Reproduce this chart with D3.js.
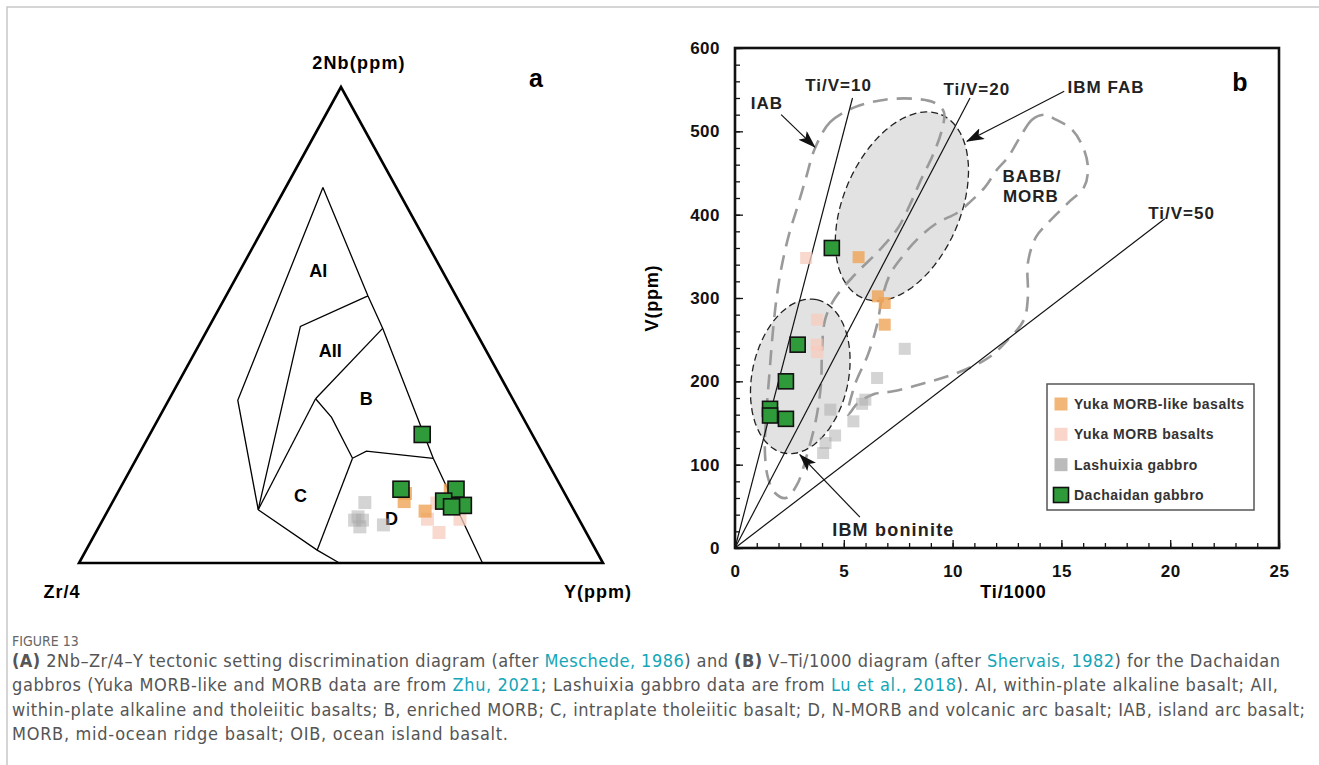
<!DOCTYPE html>
<html>
<head>
<meta charset="utf-8">
<script src="https://cdn.jsdelivr.net/npm/d3@7"></script>
<style>
  body { margin: 0; background: #fff; }
  svg text { font-family: "Liberation Sans", Arial, sans-serif; }
  .cap { font-family: "Liberation Sans Narrow", "DejaVu Sans Condensed", Roboto, sans-serif; }
</style>
</head>
<body>
<svg id="svg" width="1319" height="765"></svg>
<script>
// ---------- panel a : ternary 2Nb - Zr/4 - Y, values as [2Nb, Zr/4, Y] in %
var dachaidanA = [[27.0, 21.0, 52.0], [15.5, 30.8, 53.7], [15.5, 20.3, 64.2], [13.0, 23.9, 63.1], [12.1, 20.6, 67.3], [11.8, 23.0, 65.2]];
var morbLikeA = [[14.6, 30.4, 55.0], [12.9, 31.5, 55.6], [10.9, 28.5, 60.6], [15.3, 21.5, 63.2]];
var morbA = [[9.2, 28.9, 61.9], [6.4, 28.1, 65.5], [9.2, 22.7, 68.1], [12.6, 25.4, 62.0]];
var lashuixiaA = [[12.7, 39.1, 48.2], [9.7, 41.9, 48.4], [9.0, 41.4, 49.6], [7.6, 42.6, 49.8], [8.0, 37.9, 54.1], [9.0, 42.9, 48.1]];

// Meschede field vertices
var vA = [78.9, 14.0, 7.1], vB = [34.2, 52.6, 13.2], vC = [11.2, 60.2, 28.6];
var vD = [56.1, 16.8, 27.1], vE = [49.7, 32.9, 17.4], vF = [49.3, 17.4, 33.3];
var vG = [34.5, 37.6, 27.9], vH = [30.6, 36.5, 32.9], vI = [22.0, 36.8, 41.2];
var vJ = [23.5, 33.4, 43.1], vK = [22.0, 21.4, 56.6], vM = [0, 23.0, 77.0];
var vN = [2.7, 53.2, 44.1], vO = [0, 50.3, 49.7];
var fieldLines = [[vA, vB, vC], [vA, vD, vF, vK, vM], [vD, vE, vC], [vF, vG], [vG, vC],
                  [vG, vH, vI], [vI, vJ, vK], [vI, vN], [vC, vN, vO]];
var fieldNames = ["AI", "AII", "B", "C", "D"];
var fieldLabelPos = [[61.5, 23.6, 14.9], [44.7, 29.7, 25.6], [34.5, 28.0, 37.6], [14.1, 50.7, 35.2], [9.3, 35.7, 55.0]];
var cornerNames = ["2Nb(ppm)", "Zr/4", "Y(ppm)"];

// ---------- panel b : V vs Ti/1000, values as [Ti/1000, V]
var dachaidanB = [[4.45, 360], [2.88, 244], [2.34, 200], [1.61, 167], [1.61, 159], [2.34, 155]];
var morbLikeB = [[5.68, 349], [6.57, 302], [6.88, 294], [6.88, 268]];
var morbB = [[3.27, 348], [3.78, 274], [3.75, 244], [3.78, 235]];
var lashuixiaB = [[7.8, 239], [6.53, 204], [5.99, 178], [5.84, 173], [4.38, 166], [5.44, 152], [4.6, 135], [4.16, 126], [4.05, 114]];

var tiVRatios = [10, 20, 50];
var tiVEndV = [540, 540, 395];
var tiVLabels = ["Ti/V=10", "Ti/V=20", "Ti/V=50"];
var tiVLabelPos = [[4.76, 556], [11.11, 551], [20.52, 402]];

var iabField = [[3.68, 480], [4.37, 511], [5.51, 529], [6.89, 538], [8.27, 539], [9.19, 534], [9.6, 523], [9.51, 502],
  [9.1, 472], [8.55, 442], [8.04, 412], [7.49, 384], [6.66, 358], [5.51, 328], [4.6, 300], [4.14, 274], [4.0, 238],
  [3.95, 196], [3.72, 154], [3.31, 112], [2.85, 76], [2.34, 60], [1.84, 66], [1.52, 84], [1.38, 112], [1.42, 154],
  [1.56, 202], [1.75, 262], [1.93, 304], [2.16, 340], [2.48, 376], [2.9, 412], [3.26, 444]];
var babbField = [[14.2, 520], [13.65, 514], [13.1, 493], [12.55, 469], [12.04, 454], [11.49, 433], [10.75, 414],
  [10.2, 402], [9.28, 390], [8.36, 370], [7.67, 349], [7.12, 328], [6.76, 300], [6.53, 268], [6.11, 232], [5.51, 196],
  [5.19, 160], [5.65, 174], [6.43, 185], [7.26, 188], [8.73, 198], [10.2, 210], [11.63, 228], [12.55, 250],
  [13.28, 274], [13.46, 301], [13.46, 342], [13.83, 373], [14.38, 390], [15.3, 414], [16.04, 433], [16.22, 454],
  [16.04, 478], [15.49, 502], [14.75, 514]];
// ellipses: centre and two conjugate half-diameters, in data units
var fabEllipse = { c: [7.67, 410], u: [1.81, 110], v: [2.47, -27.6] };
var boniniteEllipse = { c: [3.0, 206], u: [0.76, 92], v: [2.16, -12.1] };

var fieldTexts = [["IAB", 1.47, 534], ["BABB/", 13.65, 446], ["MORB", 13.6, 422], ["IBM FAB", 17.05, 553]];
var arrows = [[[2.12, 520], [3.67, 481]], [[15.13, 548], [10.66, 488]], [[5.74, 37], [2.98, 112]]];

var legendNames = ["Yuka MORB-like basalts", "Yuka MORB basalts", "Lashuixia gabbro", "Dachaidan gabbro"];
var xTicks = [0, 5, 10, 15, 20, 25];
var yTicks = [0, 100, 200, 300, 400, 500, 600];

var styles = [
  { fill: "#aaaaaa", op: 0.5, stroke: "none" },
  { fill: "#f7cbbd", op: 0.75, stroke: "none" },
  { fill: "#eea456", op: 0.8, stroke: "none" },
  { fill: "#2f9a3a", op: 1, stroke: "#111" }
];

var svg = d3.select("#svg");

// page frame
svg.append("path").attr("d", "M7,765 V7 H1319").attr("fill", "none")
  .attr("stroke", "#c8c8c8").attr("stroke-width", 1.5);

// ================= panel a
var triX = d3.scaleLinear().domain([0, 100]).range([79, 603]);
var triY = d3.scaleLinear().domain([0, 100]).range([563, 87]);
function tern(p) {
  var s = p[0] + p[1] + p[2];
  var nb = p[0] / s * 100, y = p[2] / s * 100;
  return [triX(y + nb / 2), triY(nb)];
}
var ga = svg.append("g");
var ternLine = d3.line().x(d => tern(d)[0]).y(d => tern(d)[1]);
ga.append("path")
  .attr("d", ternLine([[100, 0, 0], [0, 100, 0], [0, 0, 100]]) + "Z")
  .attr("fill", "none").attr("stroke", "#000").attr("stroke-width", 2.6)
  .attr("stroke-linejoin", "miter");
fieldLines.forEach(function (l) {
  ga.append("path").attr("d", ternLine(l)).attr("fill", "none")
    .attr("stroke", "#000").attr("stroke-width", 1.3);
});
fieldNames.forEach(function (n, i) {
  var p = tern(fieldLabelPos[i]);
  ga.append("text").attr("x", p[0]).attr("y", p[1]).attr("dy", "0.35em")
    .attr("text-anchor", "middle").attr("font-size", 18).attr("font-weight", "bold").text(n);
});
ga.append("text").attr("x", triX(50) + 18).attr("y", 69).attr("text-anchor", "middle")
  .attr("font-size", 18).attr("font-weight", "bold").attr("letter-spacing", 1.2).text(cornerNames[0]);
ga.append("text").attr("x", triX(0) - 17).attr("y", 598).attr("text-anchor", "middle")
  .attr("font-size", 18).attr("font-weight", "bold").attr("letter-spacing", 1).text(cornerNames[1]);
ga.append("text").attr("x", triX(100) - 5).attr("y", 598).attr("text-anchor", "middle")
  .attr("font-size", 18).attr("font-weight", "bold").attr("letter-spacing", 1).text(cornerNames[2]);
ga.append("text").attr("x", 536).attr("y", 87).attr("text-anchor", "middle")
  .attr("font-size", 25).attr("font-weight", "bold").text("a");

function drawTernPts(data, st, size) {
  ga.append("g").selectAll("rect").data(data).join("rect")
    .attr("x", d => tern(d)[0] - size / 2).attr("y", d => tern(d)[1] - size / 2)
    .attr("width", size).attr("height", size)
    .attr("fill", st.fill).attr("fill-opacity", st.op)
    .attr("stroke", st.stroke).attr("stroke-width", 1.6);
}
drawTernPts(lashuixiaA, styles[0], 13);
drawTernPts(morbA, styles[1], 13);
drawTernPts(morbLikeA, styles[2], 13);
drawTernPts(dachaidanA, styles[3], 16);

// ================= panel b
var x = d3.scaleLinear().domain([0, 25]).range([735, 1279]);
var y = d3.scaleLinear().domain([0, 600]).range([548, 48]);
var gb = svg.append("g");

var defs = svg.append("defs");
defs.append("marker").attr("id", "arr").attr("viewBox", "0 0 18 12").attr("refX", 17).attr("refY", 6)
  .attr("markerWidth", 18).attr("markerHeight", 12).attr("markerUnits", "userSpaceOnUse")
  .attr("orient", "auto")
  .append("path").attr("d", "M0,0 L18,6 L0,12 L4,6 Z").attr("fill", "#111");

var lineB = d3.line().x(d => x(d[0])).y(d => y(d[1]));

function ellipsePts(e) {
  return d3.range(0, 73).map(function (i) {
    var t = i / 72 * 2 * Math.PI;
    return [e.c[0] + e.u[0] * Math.cos(t) + e.v[0] * Math.sin(t),
            e.c[1] + e.u[1] * Math.cos(t) + e.v[1] * Math.sin(t)];
  });
}
[fabEllipse, boniniteEllipse].forEach(function (e) {
  gb.append("path").attr("d", lineB(ellipsePts(e)) + "Z")
    .attr("fill", "#e2e2e2").attr("stroke", "#222").attr("stroke-width", 1.3)
    .attr("stroke-dasharray", "7,4");
});

var smooth = d3.line().x(d => x(d[0])).y(d => y(d[1])).curve(d3.curveCatmullRomClosed);
[iabField, babbField].forEach(function (f) {
  gb.append("path").attr("d", smooth(f)).attr("fill", "none")
    .attr("stroke", "#9a9a9a").attr("stroke-width", 2.6).attr("stroke-dasharray", "15,9");
});

tiVRatios.forEach(function (r, i) {
  var vEnd = tiVEndV[i];
  gb.append("path").attr("d", lineB([[0, 0], [r * vEnd / 1000, vEnd]]))
    .attr("stroke", "#111").attr("stroke-width", 1.2).attr("fill", "none");
  gb.append("text").attr("x", x(tiVLabelPos[i][0])).attr("y", y(tiVLabelPos[i][1])).attr("dy", "0.35em")
    .attr("text-anchor", "middle").attr("font-size", 17).attr("font-weight", "bold")
    .attr("letter-spacing", 1).attr("fill", "#222").text(tiVLabels[i]);
});

arrows.forEach(function (a) {
  gb.append("path").attr("d", lineB(a)).attr("stroke", "#111").attr("stroke-width", 1.2)
    .attr("fill", "none").attr("marker-end", "url(#arr)");
});

fieldTexts.forEach(function (f) {
  gb.append("text").attr("x", x(f[1])).attr("y", y(f[2])).attr("dy", "0.35em")
    .attr("text-anchor", "middle").attr("font-size", 17).attr("font-weight", "bold")
    .attr("letter-spacing", 1).attr("fill", "#222").text(f[0]);
});
gb.append("text").attr("x", x(7.28)).attr("y", y(22)).attr("dy", "0.35em")
  .attr("text-anchor", "middle").attr("font-size", 18).attr("letter-spacing", 1.2)
  .attr("font-weight", "bold").attr("fill", "#222").text("IBM boninite");

function drawPts(data, st, size) {
  gb.append("g").selectAll("rect").data(data).join("rect")
    .attr("x", d => x(d[0]) - size / 2).attr("y", d => y(d[1]) - size / 2)
    .attr("width", size).attr("height", size)
    .attr("fill", st.fill).attr("fill-opacity", st.op)
    .attr("stroke", st.stroke).attr("stroke-width", 1.6);
}
drawPts(lashuixiaB, styles[0], 12);
drawPts(morbB, styles[1], 12);
drawPts(morbLikeB, styles[2], 12);
drawPts(dachaidanB, styles[3], 15);

// axes
var xMinor = d3.axisBottom(x).tickValues(d3.range(0, 26)).tickSize(-5).tickFormat("");
var xMajor = d3.axisBottom(x).tickValues(xTicks).tickSize(-8).tickPadding(17);
var yMinor = d3.axisLeft(y).tickValues(d3.range(0, 601, 20)).tickSize(-5).tickFormat("");
var yMajor = d3.axisLeft(y).tickValues(yTicks).tickSize(-8).tickPadding(15);
[[xMinor, "b"], [xMajor, "b"], [yMinor, "l"], [yMajor, "l"]].forEach(function (a) {
  var g = gb.append("g").attr("transform", a[1] === "b" ? "translate(0,548)" : "translate(735,0)").call(a[0]);
  g.select(".domain").remove();
  g.selectAll("line").attr("stroke", "#111").attr("stroke-width", 1.3);
  g.selectAll("text").attr("font-size", 17).attr("font-weight", "bold").attr("fill", "#111")
    .attr("font-family", "Liberation Sans, Arial, sans-serif").attr("letter-spacing", 0.5);
});
gb.append("rect").attr("x", x(0)).attr("y", y(600)).attr("width", x(25) - x(0)).attr("height", y(0) - y(600))
  .attr("fill", "none").attr("stroke", "#111").attr("stroke-width", 2.6);
gb.append("text").attr("x", x(12.8)).attr("y", 598).attr("text-anchor", "middle")
  .attr("font-size", 18).attr("font-weight", "bold").attr("letter-spacing", 0.8).text("Ti/1000");
gb.append("text").attr("transform", "translate(658," + y(300) + ") rotate(-90)").attr("text-anchor", "middle")
  .attr("font-size", 18).attr("font-weight", "bold").attr("letter-spacing", 0.8).text("V(ppm)");
gb.append("text").attr("x", 1240).attr("y", 91).attr("text-anchor", "middle")
  .attr("font-size", 25).attr("font-weight", "bold").text("b");

// legend
var lg = gb.append("g").attr("transform", "translate(1047,384)");
lg.append("rect").attr("width", 207).attr("height", 126).attr("fill", "#fff")
  .attr("stroke", "#555").attr("stroke-width", 1.5);
var legStyles = [styles[2], styles[1], styles[0], styles[3]];
var legRows = d3.scaleLinear().domain([0, 3]).range([20, 111]);
legendNames.forEach(function (n, i) {
  var s = i === 3 ? 15 : 13;
  lg.append("rect").attr("x", 14 - s / 2).attr("y", legRows(i) - s / 2).attr("width", s).attr("height", s)
    .attr("fill", legStyles[i].fill).attr("fill-opacity", i === 3 ? 1 : 0.8)
    .attr("stroke", legStyles[i].stroke).attr("stroke-width", 1.6);
  lg.append("text").attr("x", 27).attr("y", legRows(i)).attr("dy", "0.36em")
    .attr("font-size", 14).attr("font-weight", "bold").attr("fill", "#333")
    .attr("letter-spacing", 0.5).text(n);
});

// ================= caption
var captionLines = [
  [["(A)", "b"], [" 2Nb–Zr/4–Y tectonic setting discrimination diagram (after ", ""], ["Meschede, 1986", "l"],
   [") and ", ""], ["(B)", "b"], [" V–Ti/1000 diagram (after ", ""], ["Shervais, 1982", "l"], [") for the Dachaidan", ""]],
  [["gabbros (Yuka MORB-like and MORB data are from ", ""], ["Zhu, 2021", "l"],
   ["; Lashuixia gabbro data are from ", ""], ["Lu et al., 2018", "l"], ["). AI, within-plate alkaline basalt; AII,", ""]],
  [["within-plate alkaline and tholeiitic basalts; B, enriched MORB; C, intraplate tholeiitic basalt; D, N-MORB and volcanic arc basalt; IAB, island arc basalt;", ""]],
  [["MORB, mid-ocean ridge basalt; OIB, ocean island basalt.", ""]]
];
var captionWidths = [1268, 1266, 1293, 496];
svg.append("text").attr("class", "cap").attr("x", 12).attr("y", 646).attr("font-size", 14)
  .attr("fill", "#666").text("FIGURE 13");
captionLines.forEach(function (line, i) {
  var t = svg.append("text").attr("class", "cap").attr("x", 12).attr("y", 667 + i * 24.3)
    .attr("font-size", 18).attr("fill", "#555")
    .attr("textLength", captionWidths[i]).attr("lengthAdjust", "spacing");
  line.forEach(function (seg) {
    t.append("tspan").text(seg[0])
      .attr("fill", seg[1] === "l" ? "#14a6b8" : "#555")
      .attr("font-weight", seg[1] === "b" ? "bold" : null);
  });
});
</script>
</body>
</html>
